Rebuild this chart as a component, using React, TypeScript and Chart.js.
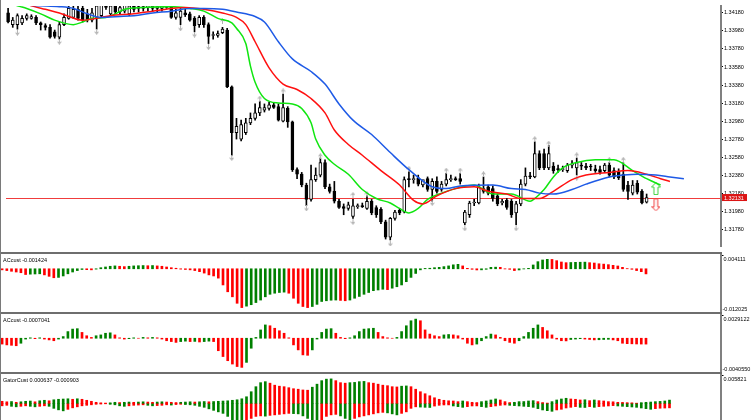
import React, { memo, useEffect, useMemo, useRef } from "react"
import { Chart, registerables, ChartConfiguration, Plugin } from "chart.js"

Chart.register(...registerables)

const FONT = "Liberation Sans"
const FONT_SIZE = 5.5
Chart.defaults.font.family = FONT
Chart.defaults.font.size = FONT_SIZE

// candles, one entry per bar (index 0 = leftmost bar on screen)
const openPrices = [
    1.3418, 1.3405, 1.3405, 1.3407, 1.3412, 1.3412, 1.3413, 1.3407, 1.3404, 1.3402,
    1.3397, 1.3391, 1.3405, 1.3412, 1.3413, 1.3422, 1.3423, 1.3417, 1.3410, 1.3413,
    1.3415, 1.3428, 1.3417, 1.3426, 1.3419, 1.3420, 1.3417, 1.3426, 1.3423, 1.3425,
    1.3424, 1.3426, 1.3423, 1.3423, 1.3429, 1.3428, 1.3413, 1.3413, 1.3418, 1.3417,
    1.3412, 1.3405, 1.3413, 1.3405, 1.3393, 1.3393, 1.3396, 1.3399, 1.3336, 1.3285,
    1.3278, 1.3285, 1.3296, 1.3301, 1.3307, 1.3310, 1.3312, 1.3316, 1.3314, 1.3298,
    1.3312, 1.3297, 1.3244, 1.3239, 1.3227, 1.3211, 1.3233, 1.3238, 1.3252, 1.3225,
    1.3220, 1.3209, 1.3203, 1.3201, 1.3192, 1.3203, 1.3204, 1.3201, 1.3209, 1.3202,
    1.3200, 1.3186, 1.3169, 1.3190, 1.3199, 1.3197, 1.3234, 1.3233, 1.3235, 1.3227,
    1.3234, 1.3222, 1.3231, 1.3222, 1.3228, 1.3233, 1.3234, 1.3234, 1.3185, 1.3194,
    1.3207, 1.3207, 1.3223, 1.3225, 1.3223, 1.3215, 1.3207, 1.3210, 1.3209, 1.3196,
    1.3206, 1.3228, 1.3237, 1.3236, 1.3262, 1.3262, 1.3246, 1.3248, 1.3245, 1.3244,
    1.3243, 1.3249, 1.3246, 1.3249, 1.3248, 1.3248, 1.3245, 1.3244, 1.3243, 1.3249,
    1.3243, 1.3242, 1.3239, 1.3227, 1.3218, 1.3229, 1.3220, 1.3208,
]
const highPrices = [
    1.3423, 1.3413, 1.3417, 1.3415, 1.3417, 1.3416, 1.3415, 1.3408, 1.3406, 1.3405,
    1.3399, 1.3408, 1.3417, 1.3428, 1.3426, 1.3426, 1.3427, 1.3422, 1.3423, 1.3428,
    1.3431, 1.3431, 1.3428, 1.3429, 1.3426, 1.3429, 1.3428, 1.3429, 1.3426, 1.3428,
    1.3428, 1.3429, 1.3426, 1.3429, 1.3431, 1.3431, 1.3422, 1.3423, 1.3422, 1.3419,
    1.3414, 1.3415, 1.3415, 1.3407, 1.3397, 1.3398, 1.3402, 1.3401, 1.3337, 1.3301,
    1.3299, 1.3301, 1.3307, 1.3317, 1.3320, 1.3317, 1.3319, 1.3318, 1.3317, 1.3328,
    1.3314, 1.3298, 1.3246, 1.3241, 1.3229, 1.3249, 1.3246, 1.3257, 1.3255, 1.3228,
    1.3231, 1.3211, 1.3206, 1.3208, 1.3211, 1.3206, 1.3207, 1.3215, 1.3211, 1.3204,
    1.3202, 1.3188, 1.3191, 1.3199, 1.3201, 1.3236, 1.3242, 1.3238, 1.3238, 1.3232,
    1.3236, 1.3234, 1.3236, 1.3231, 1.3240, 1.3238, 1.3236, 1.3240, 1.3199, 1.3209,
    1.3211, 1.3228, 1.3236, 1.3227, 1.3226, 1.3217, 1.3211, 1.3212, 1.3211, 1.3209,
    1.3233, 1.3246, 1.3241, 1.3275, 1.3265, 1.3267, 1.3271, 1.3252, 1.3249, 1.3248,
    1.3251, 1.3254, 1.3257, 1.3252, 1.3251, 1.3250, 1.3249, 1.3248, 1.3251, 1.3252,
    1.3246, 1.3245, 1.3252, 1.3231, 1.3232, 1.3232, 1.3222, 1.3217,
]
const lowPrices = [
    1.3407, 1.3402, 1.3400, 1.3405, 1.3410, 1.3411, 1.3405, 1.3399, 1.3399, 1.3390,
    1.3390, 1.3389, 1.3404, 1.3411, 1.3412, 1.3410, 1.3408, 1.3408, 1.3408, 1.3400,
    1.3413, 1.3422, 1.3415, 1.3417, 1.3416, 1.3418, 1.3415, 1.3419, 1.3419, 1.3420,
    1.3420, 1.3420, 1.3419, 1.3420, 1.3423, 1.3412, 1.3411, 1.3405, 1.3414, 1.3409,
    1.3397, 1.3402, 1.3402, 1.3384, 1.3389, 1.3391, 1.3395, 1.3335, 1.3260, 1.3278,
    1.3276, 1.3283, 1.3294, 1.3299, 1.3304, 1.3308, 1.3310, 1.3312, 1.3298, 1.3297,
    1.3291, 1.3242, 1.3234, 1.3225, 1.3204, 1.3209, 1.3231, 1.3236, 1.3223, 1.3218,
    1.3207, 1.3201, 1.3194, 1.3199, 1.3190, 1.3201, 1.3202, 1.3200, 1.3194, 1.3191,
    1.3184, 1.3167, 1.3166, 1.3188, 1.3194, 1.3196, 1.3225, 1.3229, 1.3226, 1.3225,
    1.3220, 1.3209, 1.3218, 1.3220, 1.3226, 1.3231, 1.3232, 1.3228, 1.3183, 1.3191,
    1.3204, 1.3206, 1.3218, 1.3216, 1.3209, 1.3204, 1.3205, 1.3200, 1.3191, 1.3183,
    1.3204, 1.3226, 1.3234, 1.3235, 1.3244, 1.3244, 1.3244, 1.3240, 1.3241, 1.3242,
    1.3241, 1.3246, 1.3238, 1.3244, 1.3244, 1.3243, 1.3241, 1.3239, 1.3241, 1.3236,
    1.3234, 1.3233, 1.3220, 1.3211, 1.3216, 1.3217, 1.3206, 1.3207,
]
const closePrices = [
    1.3408, 1.3410, 1.3415, 1.3412, 1.3415, 1.3414, 1.3407, 1.3405, 1.3402, 1.3391,
    1.3392, 1.3405, 1.3413, 1.3423, 1.3422, 1.3412, 1.3410, 1.3410, 1.3418, 1.3426,
    1.3428, 1.3424, 1.3426, 1.3419, 1.3424, 1.3428, 1.3426, 1.3422, 1.3425, 1.3423,
    1.3426, 1.3423, 1.3425, 1.3428, 1.3424, 1.3413, 1.3418, 1.3420, 1.3416, 1.3410,
    1.3404, 1.3413, 1.3405, 1.3392, 1.3394, 1.3395, 1.3400, 1.3336, 1.3285, 1.3292,
    1.3294, 1.3296, 1.3301, 1.3307, 1.3313, 1.3313, 1.3316, 1.3313, 1.3299, 1.3313,
    1.3297, 1.3244, 1.3239, 1.3227, 1.3211, 1.3233, 1.3238, 1.3252, 1.3225, 1.3220,
    1.3209, 1.3202, 1.3201, 1.3205, 1.3204, 1.3204, 1.3203, 1.3209, 1.3196, 1.3194,
    1.3186, 1.3169, 1.3190, 1.3197, 1.3196, 1.3233, 1.3233, 1.3234, 1.3228, 1.3233,
    1.3222, 1.3231, 1.3220, 1.3228, 1.3233, 1.3234, 1.3233, 1.3231, 1.3197, 1.3207,
    1.3208, 1.3225, 1.3220, 1.3218, 1.3212, 1.3206, 1.3209, 1.3202, 1.3194, 1.3206,
    1.3228, 1.3237, 1.3236, 1.3262, 1.3246, 1.3246, 1.3262, 1.3243, 1.3244, 1.3245,
    1.3249, 1.3250, 1.3252, 1.3248, 1.3246, 1.3247, 1.3243, 1.3241, 1.3249, 1.3238,
    1.3236, 1.3235, 1.3222, 1.3220, 1.3227, 1.3219, 1.3207, 1.32131,
]
const lastClose = closePrices[closePrices.length - 1]

// alligator lines (jaw / teeth / lips), read at some bars; they run past the last candle
const jawBars = [-1, 3, 7, 11, 14, 17, 20, 24, 27, 31, 35, 39, 42, 46, 49, 53, 55, 58, 61, 65, 68, 71, 74, 78, 82, 86, 91, 94, 97, 104, 108, 111, 114, 117, 121, 124, 129, 132, 135, 139, 142, 145]
const jawPrices = [1.3429, 1.3427, 1.3426, 1.3425, 1.3423, 1.3417, 1.3413, 1.3414, 1.3415, 1.3418, 1.3420, 1.3423, 1.3423, 1.3422, 1.3419, 1.3414, 1.3408, 1.3386, 1.3367, 1.3353, 1.3339, 1.3317, 1.3299, 1.3283, 1.3263, 1.3244, 1.3225, 1.3223, 1.3226, 1.3227, 1.3223, 1.3222, 1.3218, 1.3217, 1.3222, 1.3228, 1.3236, 1.3238, 1.3239, 1.3238, 1.3236, 1.3234]
const teethBars = [-1, 2, 5, 8, 11, 16, 19, 22, 27, 31, 35, 38, 42, 46, 49, 51, 53, 56, 59, 62, 65, 68, 70, 73, 76, 80, 84, 87, 89, 92, 96, 100, 103, 107, 110, 114, 117, 121, 124, 129, 133, 137, 140, 142]
const teethPrices = [1.3436, 1.3431, 1.3426, 1.3422, 1.3418, 1.3410, 1.3412, 1.3415, 1.3417, 1.3420, 1.3423, 1.3424, 1.3422, 1.3418, 1.3413, 1.3405, 1.3386, 1.3357, 1.3339, 1.3333, 1.3323, 1.3307, 1.3288, 1.3272, 1.3260, 1.3243, 1.3227, 1.3210, 1.3206, 1.3215, 1.3223, 1.3225, 1.3220, 1.3217, 1.3212, 1.3212, 1.3220, 1.3233, 1.3238, 1.3241, 1.3243, 1.3239, 1.3234, 1.3231]
const lipsBars = [-1, 2, 4, 7, 10, 14, 16, 18, 21, 23, 25, 29, 35, 39, 42, 45, 48, 49, 51, 52, 53, 55, 58, 61, 63, 65, 66, 68, 70, 73, 76, 79, 82, 84, 86, 88, 90, 93, 96, 100, 102, 104, 108, 112, 113, 115, 117, 119, 122, 126, 130, 134, 137, 140]
const lipsPrices = [1.3432, 1.3426, 1.3423, 1.3417, 1.3410, 1.3405, 1.3408, 1.3412, 1.3413, 1.3417, 1.3422, 1.3424, 1.3425, 1.3423, 1.3420, 1.3412, 1.3407, 1.3401, 1.3384, 1.3359, 1.3341, 1.3323, 1.3318, 1.3317, 1.3312, 1.3296, 1.3278, 1.3260, 1.3250, 1.3239, 1.3222, 1.3212, 1.3207, 1.3201, 1.3196, 1.3201, 1.3211, 1.3218, 1.3223, 1.3227, 1.3222, 1.3217, 1.3217, 1.3209, 1.3212, 1.3222, 1.3236, 1.3246, 1.3252, 1.3255, 1.3255, 1.3243, 1.3234, 1.3227]

// fractal marks
const upFractalBars = [46, 54, 59, 67, 74, 77, 86, 94, 97, 102, 113, 116, 122, 129, 132]
const upFractalPrices = [1.3409, 1.3323, 1.3331, 1.3259, 1.3216, 1.3217, 1.3245, 1.3243, 1.3243, 1.3239, 1.3278, 1.3273, 1.3260, 1.3255, 1.3255]
const downFractalBars = [2, 11, 19, 37, 40, 43, 48, 64, 74, 82, 91, 98, 109, 122]
const downFractalPrices = [1.3396, 1.3386, 1.3397, 1.3401, 1.3394, 1.3380, 1.3257, 1.3201, 1.3186, 1.3162, 1.3207, 1.3179, 1.3179, 1.3235]

// signal arrows after the last bar
const signalUpBar = [139]
const signalUpPrice = [1.3223]
const signalDownBar = [139]
const signalDownPrice = [1.3205]

const priceTicks = [1.3178, 1.3198, 1.3218, 1.3238, 1.3258, 1.3278, 1.3298, 1.3318, 1.3338, 1.3358, 1.3378, 1.3398, 1.3418]
const PRICE_MIN = 1.31593
const PRICE_MAX = 1.34257

// first AC window
const ac1Values = [
    -0.0003, -0.0005, -0.0007, -0.0009, -0.0011, -0.0016, -0.0015, -0.00145, -0.0014, -0.0017,
    -0.0021, -0.0025, -0.0024, -0.002, -0.0014, -0.0009, -0.0005, -0.0002, -0.00025, -0.0003,
    -0.0001, 0.0003, 0.0005, 0.0007, 0.0008, 0.0007, 0.0006, 0.0007, 0.0008, 0.00085,
    0.0009, 0.00085, 0.0009, 0.0008, 0.0007, 0.0005, 0.0003, 0.00015, -0.0001, -0.0002,
    -0.0003, -0.0005, -0.0008, -0.0012, -0.0017, -0.002, -0.0026, -0.0045, -0.0064, -0.0078,
    -0.0096, -0.0108, -0.0104, -0.01, -0.0094, -0.0087, -0.0078, -0.0071, -0.0068, -0.0066,
    -0.0065, -0.0068, -0.0082, -0.0096, -0.0105, -0.0108, -0.0105, -0.0099, -0.0091, -0.0089,
    -0.00875, -0.0087, -0.0088, -0.0089, -0.0087, -0.0082, -0.0077, -0.0071, -0.0066, -0.0061,
    -0.0059, -0.0057, -0.0058, -0.0054, -0.005, -0.0045, -0.0036, -0.0024, -0.0013, -0.0003,
    0.0001, 0.00015, 0.0003, 0.0004, 0.0006, 0.0008, 0.0011, 0.00124, 0.0008, 0.00013,
    -0.00015, -0.00033, -0.0003, -0.00015, 0.0004, 0.00045, 0.0004, -0.00005, -0.00015, -0.0005,
    -0.00033, -0.00005, 0.00013, 0.00106, 0.00198, 0.00245, 0.00263, 0.0026, 0.00226, 0.00189,
    0.0017, 0.00175, 0.0018, 0.00182, 0.00185, 0.0017, 0.0016, 0.0014, 0.0013, 0.00115,
    0.00096, 0.00078, 0.00041, 0.00005, -0.00015, -0.0005, -0.0008, -0.001424,
]
const AC1_MAX = 0.004111
const AC1_MIN = -0.012025

// second AC window
const ac2Values = [
    -0.0007, -0.0008, -0.00085, -0.0009, -0.0006, -0.0001, 0.00005, -0.00005, 0.00005, -0.0001,
    -0.0002, -0.0003, -0.0001, 0.0002, 0.0008, 0.0011, 0.00115, 0.0007, 0.0003, 0.0001,
    0.0003, 0.0004, 0.0006, 0.00065, 0.0004, 0.00005, -0.0001, -0.00005, 0.00005, 0.0,
    0.0001, 0.00005, 0.0001, 0.00005, -0.0001, -0.0003, -0.0004, -0.0005, -0.0004, -0.00035,
    -0.0004, -0.00038, -0.00045, -0.0004, -0.00035, -0.0004, -0.0015, -0.0022, -0.0027, -0.0031,
    -0.0034, -0.0035, -0.0029, -0.0012, 0.0001, 0.001, 0.0016, 0.0015, 0.0012, 0.0009,
    0.0006, 0.00005, -0.0008, -0.0014, -0.002, -0.00205, -0.0014, -0.0001, 0.0007, 0.0011,
    0.00115, 0.0006, 0.0001, -0.00005, 0.00005, 0.0003, 0.0008, 0.0011, 0.00115, 0.0012,
    0.0007, 0.0002, 0.00005, 0.0, 0.0001, 0.0008, 0.0015, 0.0021, 0.0023, 0.0021,
    0.001, 0.0005, 0.0003, 0.0002, 0.0004, 0.00045, 0.0004, 0.0003, -0.0001, -0.0006,
    -0.0008, -0.0007, -0.0003, 0.0002, 0.0005, 0.0004, 0.0001, -0.0003, -0.0005, -0.0006,
    -0.0003, 0.0002, 0.0007, 0.0012, 0.0016, 0.0013, 0.0009, 0.0004, -0.0001, -0.0003,
    -0.00032, -0.00015, -0.0001, -0.00005, -0.0001, -0.00015, -0.0002, -0.00018, -0.00015, -0.00013,
    -0.0002, -0.0003, -0.0006, -0.00065, -0.00067, -0.00069, -0.0007, -0.0007041,
]
const AC2_MAX = 0.0029122
const AC2_MIN = -0.004055

// gator oscillator, runs 5 bars past the last candle
const gatorUp = [
    0.0004, 0.0003, 0.00035, 0.0002, 0.0003, 0.0004, 0.00045, 0.0003, 0.0005, 0.0006,
    0.0005, 0.0007, 0.0008, 0.00085, 0.0009, 0.0008, 0.0009, 0.0008, 0.0006, 0.0004,
    0.0002, 0.0001, 0.00005, 0.0001, 0.0002, 0.00015, 0.0002, 0.00025, 0.0002, 0.00025,
    0.0003, 0.00025, 0.0002, 0.00025, 0.0003, 0.00025, 0.0002, 0.00015, 0.0002, 0.00025,
    0.0003, 0.00025, 0.0003, 0.00035, 0.0003, 0.00035, 0.0004, 0.00045, 0.0005, 0.0006,
    0.0007, 0.0009, 0.0013, 0.0023, 0.0033, 0.0041, 0.0043, 0.004, 0.0036, 0.0034,
    0.0033, 0.0031, 0.0029, 0.0028, 0.00265, 0.0026, 0.0032, 0.0038, 0.0045, 0.0048,
    0.00485, 0.0045, 0.0041, 0.004, 0.0041, 0.00415, 0.0043, 0.00435, 0.0041, 0.004,
    0.0038, 0.0036, 0.0035, 0.0033, 0.00325, 0.0034, 0.00345, 0.0033, 0.0028, 0.0023,
    0.0019, 0.0015, 0.0011, 0.0008, 0.0006, 0.0005, 0.00046, 0.00033, 0.00046, 0.00033,
    0.0002, 0.00015, 0.00033, 0.00046, 0.00066, 0.00086, 0.00066, 0.00033, 0.00015, 0.0002,
    0.00033, 0.00035, 0.00046, 0.00053, 0.00033, 0.00015, 0.00005, 0.00033, 0.00066, 0.00086,
    0.001, 0.00086, 0.0008, 0.00066, 0.0007, 0.00053, 0.00066, 0.00053, 0.00046, 0.00033,
    0.0003, 0.0002, 0.00018, 0.00013, 0.0001, 0.00003, 0.00013, 0.0002, 0.00025, 0.00033,
    0.00038, 0.00046, 0.000637,
]
const gatorDown = [
    -0.0005, -0.0004, -0.0006, -0.0007, -0.0006, -0.0005, -0.0006, -0.0007, -0.0006, -0.0005,
    -0.0006, -0.001, -0.0013, -0.0015, -0.0012, -0.0009, -0.0007, -0.0005, -0.0004, -0.0003,
    -0.0002, -0.00015, -0.0001, -0.0002, -0.0003, -0.0005, -0.0006, -0.0005, -0.0004, -0.00035,
    -0.0003, -0.0004, -0.0005, -0.00045, -0.0004, -0.0003, -0.00035, -0.00025, -0.0002, -0.00025,
    -0.0003, -0.0004, -0.0006, -0.0008, -0.0011, -0.0014, -0.0017, -0.002, -0.0026, -0.0033,
    -0.0038, -0.004, -0.0036, -0.003, -0.0026, -0.0025, -0.00255, -0.0024, -0.0023, -0.0022,
    -0.0021, -0.002, -0.00205, -0.0021, -0.0025, -0.003, -0.0035, -0.0038, -0.0033, -0.0026,
    -0.0023, -0.0022, -0.0025, -0.003, -0.0035, -0.003, -0.0027, -0.0025, -0.0023, -0.0021,
    -0.0019, -0.0018, -0.0019, -0.0021, -0.0023, -0.002, -0.0017, -0.001, -0.0007, -0.00075,
    -0.0008, -0.00083, -0.00055, -0.0004, -0.00033, -0.00032, -0.00053, -0.00066, -0.0008, -0.00066,
    -0.00053, -0.00052, -0.00066, -0.0008, -0.00066, -0.00053, -0.0004, -0.00033, -0.0004, -0.00046,
    -0.00053, -0.0006, -0.00066, -0.0008, -0.00106, -0.00132, -0.00146, -0.00159, -0.00132, -0.00119,
    -0.00093, -0.0008, -0.00066, -0.0008, -0.00083, -0.00066, -0.0008, -0.00066, -0.0006, -0.00053,
    -0.00046, -0.00053, -0.0006, -0.00066, -0.00073, -0.0008, -0.00093, -0.00106, -0.00119, -0.00106,
    -0.00098, -0.00094, -0.000903,
]
const GATOR_MAX = 0.005821
const GATOR_MIN = -0.0057

// the visible bar window: bar 0 sits at the left edge, the axis starts after bar 152
const X_MIN = -0.45
const X_MAX = 152.96

const GREEN = "#008000"
const RED = "#ff0000"

function makeArrow(dir: "up" | "down", w: number, h: number, stroke: string | null, fill: string) {
    const c = document.createElement("canvas")
    c.width = w
    c.height = h
    const g = c.getContext("2d") as CanvasRenderingContext2D
    g.save()
    if (dir === "down") {
        g.translate(0, h)
        g.scale(1, -1)
    }
    g.beginPath()
    if (stroke) {
        // hollow signal arrow
        g.moveTo(w / 2, 0.5)
        g.lineTo(w - 0.5, w / 2)
        g.lineTo(w * 0.7, w / 2)
        g.lineTo(w * 0.7, h - 0.5)
        g.lineTo(w * 0.3, h - 0.5)
        g.lineTo(w * 0.3, w / 2)
        g.lineTo(0.5, w / 2)
        g.closePath()
        g.fillStyle = fill
        g.fill()
        g.strokeStyle = stroke
        g.lineWidth = 1
        g.stroke()
    } else {
        // small fractal arrow: light head and stem
        g.moveTo(w / 2, 0)
        g.lineTo(w, h * 0.6)
        g.lineTo(w / 2, h * 0.45)
        g.lineTo(0, h * 0.6)
        g.closePath()
        g.fillStyle = fill
        g.fill()
        g.fillRect(w / 2 - 0.5, h * 0.45, 1, h * 0.55)
    }
    g.restore()
    return c
}

function fixedAxis(scale: any) {
    scale.width = 31
    scale.paddingTop = 0
    scale.paddingBottom = 0
}

const xScale: any = {
    type: "linear",
    min: X_MIN,
    max: X_MAX,
    display: false,
    offset: false,
    grid: { offset: false },
}

const priceLinePlugin: Plugin = {
    id: "priceLine",
    beforeDatasetsDraw(chart) {
        const { ctx, chartArea, scales } = chart
        const y = Math.round(scales.y.getPixelForValue(lastClose)) + 0.5
        ctx.save()
        ctx.strokeStyle = "#f03c3c"
        ctx.lineWidth = 1
        ctx.beginPath()
        ctx.moveTo(chartArea.left, y)
        ctx.lineTo(chartArea.right, y)
        ctx.stroke()
        ctx.restore()
    },
    afterDraw(chart) {
        const { ctx, chartArea, scales } = chart
        const y = scales.y.getPixelForValue(lastClose)
        ctx.save()
        ctx.fillStyle = "#dc1414"
        ctx.fillRect(chartArea.right + 1, y - 3.5, 25, 7)
        ctx.fillStyle = "#ffffff"
        ctx.font = `${FONT_SIZE}px "${FONT}"`
        ctx.textBaseline = "middle"
        ctx.textAlign = "left"
        ctx.fillText(lastClose.toFixed(5), chartArea.right + 3, y + 0.5)
        ctx.restore()
    },
}

const panelTextPlugin: Plugin = {
    id: "panelText",
    afterDraw(chart, _args, opts: any) {
        const { ctx, chartArea } = chart
        ctx.save()
        ctx.font = `${FONT_SIZE}px "${FONT}"`
        ctx.fillStyle = "#000000"
        ctx.textBaseline = "middle"
        ctx.textAlign = "left"
        ctx.fillText(opts.title, 3, chartArea.top + 6)
        ctx.fillText(opts.top, chartArea.right + 2.5, chartArea.top + 5)
        if (opts.bottom) ctx.fillText(opts.bottom, chartArea.right + 1.5, chartArea.bottom - 2.5)
        ctx.fillRect(chartArea.right + 1, chartArea.top + 1, 1.5, 1)
        ctx.restore()
    },
}

function acColors(values: number[]) {
    return values.map((v, i) => (i > 0 && v > values[i - 1] ? GREEN : RED))
}

function gatorColors(values: number[]) {
    return values.map((v, i) => (i > 0 && Math.abs(v) >= Math.abs(values[i - 1]) ? GREEN : RED))
}

function toPoints(bars: number[], values: number[]) {
    return bars.map((b, i) => ({ x: b, y: values[i] }))
}

function panelConfig(title: string, top: string, bottom: string, min: number, max: number, datasets: any[]): ChartConfiguration {
    return {
        type: "bar",
        data: { datasets },
        options: {
            responsive: false,
            animation: false,
            events: [],
            layout: { padding: 0 },
            scales: {
                x: xScale,
                y: {
                    position: "right",
                    min,
                    max,
                    afterFit: fixedAxis,
                    ticks: { display: false },
                    grid: { display: false },
                    border: { display: true, color: "#808080", width: 2 },
                },
            },
            plugins: {
                legend: { display: false },
                tooltip: { enabled: false },
                panelText: { title, top, bottom },
            } as any,
        },
        plugins: [panelTextPlugin],
    }
}

export interface StdChartProps {
    config: ChartConfiguration;
    width: number;
    height: number;
}

function StdChartBase({ config, width, height }: StdChartProps) {

    // references
    const canvasRef = useRef<HTMLCanvasElement>(null)
    const chartRef = useRef<Chart>()

    useEffect(() => {
        chartRef.current?.destroy()
        chartRef.current = new Chart(
            (canvasRef.current as HTMLCanvasElement).getContext("2d") as CanvasRenderingContext2D,
            config
        )

        return () => {
            chartRef.current?.destroy()
        }
    }, [config])

    return (
        <canvas
            ref={canvasRef}
            width={width}
            height={height}
            style={{ display: "block", width, height }}
        >
        </canvas>
    )
}

const StdChart = memo(StdChartBase)

export default function App() {

    const mainConfig = useMemo<ChartConfiguration>(() => {
        const upFractal = makeArrow("up", 5, 6, null, "#b0b0b0")
        const downFractal = makeArrow("down", 5, 6, null, "#b0b0b0")
        const upSignal = makeArrow("up", 10, 13, "#3cd23c", "#ffffff")
        const downSignal = makeArrow("down", 9, 13, "#f03c3c", "#ffffff")
        const bars = closePrices.map((_, i) => i)
        const line = (label: string, bx: number[], values: number[], color: string) => ({
            type: "line",
            label,
            data: toPoints(bx, values),
            borderColor: color,
            borderWidth: 1.5,
            pointRadius: 0,
            cubicInterpolationMode: "monotone",
            order: 0,
        })
        return {
            type: "bar",
            data: {
                datasets: [
                    line("Jaw", jawBars, jawPrices, "#1e5ae6"),
                    line("Teeth", teethBars, teethPrices, "#ff1010"),
                    line("Lips", lipsBars, lipsPrices, "#10e610"),
                    {
                        type: "line",
                        label: "Fractal up",
                        data: toPoints(upFractalBars, upFractalPrices),
                        showLine: false,
                        pointStyle: upFractal,
                        pointRadius: 3,
                        order: 1,
                    },
                    {
                        type: "line",
                        label: "Fractal down",
                        data: toPoints(downFractalBars, downFractalPrices),
                        showLine: false,
                        pointStyle: downFractal,
                        pointRadius: 3,
                        order: 1,
                    },
                    {
                        type: "line",
                        label: "Signal up",
                        data: toPoints(signalUpBar, signalUpPrice),
                        showLine: false,
                        pointStyle: upSignal,
                        pointRadius: 5,
                        order: 1,
                    },
                    {
                        type: "line",
                        label: "Signal down",
                        data: toPoints(signalDownBar, signalDownPrice),
                        showLine: false,
                        pointStyle: downSignal,
                        pointRadius: 5,
                        order: 1,
                    },
                    {
                        type: "bar",
                        label: "Body",
                        data: bars.map((i) => ({ x: i, y: [openPrices[i], closePrices[i]] })),
                        backgroundColor: bars.map((i) => (closePrices[i] > openPrices[i] ? "#ffffff" : "#000000")),
                        borderColor: "#000000",
                        borderWidth: 1,
                        borderSkipped: false,
                        barThickness: 3,
                        minBarLength: 1,
                        grouped: false,
                        order: 2,
                    },
                    {
                        type: "bar",
                        label: "Wick",
                        data: bars.map((i) => ({ x: i, y: [lowPrices[i], highPrices[i]] })),
                        backgroundColor: "#000000",
                        barThickness: 1,
                        grouped: false,
                        order: 3,
                    },
                ] as any,
            },
            options: {
                responsive: false,
                animation: false,
                events: [],
                layout: { padding: 0 },
                scales: {
                    x: xScale,
                    y: {
                        position: "right",
                        min: PRICE_MIN,
                        max: PRICE_MAX,
                        afterFit: fixedAxis,
                        afterBuildTicks(scale: any) {
                            scale.ticks = priceTicks.map((value) => ({ value }))
                        },
                        ticks: {
                            autoSkip: false,
                            padding: 1,
                            color: "#000000",
                            font: { family: FONT, size: FONT_SIZE },
                            callback: (v: any) => Number(v).toFixed(5),
                        },
                        grid: { display: true, drawOnChartArea: false, drawTicks: true, tickLength: 2, color: "#000000" },
                        border: { display: true, color: "#808080", width: 2 },
                    },
                },
                plugins: {
                    legend: { display: false },
                    tooltip: { enabled: false },
                },
            },
            plugins: [priceLinePlugin],
        } as ChartConfiguration
    }, [])

    const ac1Config = useMemo(() => panelConfig(
        "ACcust " + ac1Values[ac1Values.length - 1].toFixed(6),
        AC1_MAX.toFixed(6), AC1_MIN.toFixed(6), AC1_MIN, AC1_MAX,
        [{
            type: "bar",
            data: ac1Values.map((y, x) => ({ x, y })),
            backgroundColor: acColors(ac1Values),
            barThickness: 2,
            grouped: false,
        }]
    ), [])

    const ac2Config = useMemo(() => panelConfig(
        "ACcust " + ac2Values[ac2Values.length - 1].toFixed(7),
        AC2_MAX.toFixed(7), AC2_MIN.toFixed(7), AC2_MIN, AC2_MAX,
        [{
            type: "bar",
            data: ac2Values.map((y, x) => ({ x, y })),
            backgroundColor: acColors(ac2Values),
            barThickness: 2,
            grouped: false,
        }]
    ), [])

    const gatorConfig = useMemo(() => panelConfig(
        "GatorCust " + gatorUp[gatorUp.length - 1].toFixed(6) + " " + gatorDown[gatorDown.length - 1].toFixed(6),
        GATOR_MAX.toFixed(6), "", GATOR_MIN, GATOR_MAX,
        [
            {
                type: "bar",
                data: gatorUp.map((y, x) => ({ x, y })),
                backgroundColor: gatorColors(gatorUp),
                barThickness: 2,
                grouped: false,
            },
            {
                type: "bar",
                data: gatorDown.map((y, x) => ({ x, y })),
                backgroundColor: gatorColors(gatorDown),
                barThickness: 2,
                grouped: false,
            },
        ]
    ), [])

    const sep = (top: number) => (
        <div style={{ position: "absolute", left: 0, top, width: 722, height: 2, background: "#6e6e6e" }} />
    )

    return (
        <div style={{ position: "fixed", left: 0, top: 0, width: 752, height: 420, overflow: "hidden", background: "#ffffff" }}>
            <div style={{ position: "absolute", left: 0, top: 0 }}>
                <StdChart config={mainConfig} width={752} height={252} />
            </div>
            {sep(252)}
            <div style={{ position: "absolute", left: 0, top: 254 }}>
                <StdChart config={ac1Config} width={752} height={58} />
            </div>
            {sep(312)}
            <div style={{ position: "absolute", left: 0, top: 314 }}>
                <StdChart config={ac2Config} width={752} height={58} />
            </div>
            {sep(372)}
            <div style={{ position: "absolute", left: 0, top: 374 }}>
                <StdChart config={gatorConfig} width={752} height={58} />
            </div>
            <div style={{ position: "absolute", left: 0, top: 0, width: 1, height: 420, background: "#7a7a7a" }} />
        </div>
    )
}
